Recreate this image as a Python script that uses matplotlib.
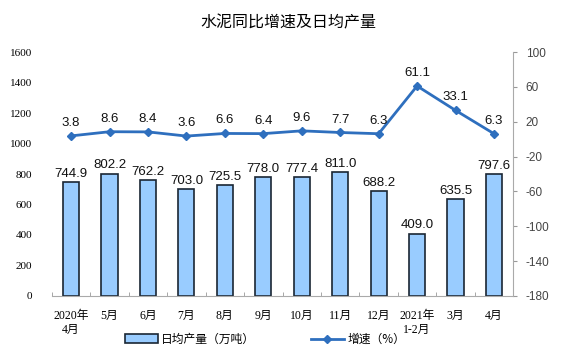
import matplotlib.pyplot as plt
import numpy as np

plt.rcParams["font.family"] = ["Liberation Sans", "Noto Sans CJK SC"]
plt.rcParams["axes.unicode_minus"] = False

# 数据
months = ["2020年\n4月", "5月", "6月", "7月", "8月", "9月", "10月", "11月", "12月", "2021年\n1-2月", "3月", "4月"]
output = [744.9, 802.2, 762.2, 703.0, 725.5, 778.0, 777.4, 811.0, 688.2, 409.0, 635.5, 797.6]
growth = [3.8, 8.6, 8.4, 3.6, 6.6, 6.4, 9.6, 7.7, 6.3, 61.1, 33.1, 6.3]

cjk = ["Noto Sans CJK SC"]
serif_cjk = ["Liberation Serif", "Noto Sans CJK SC"]

fig = plt.figure(figsize=(5.76, 3.57), dpi=100)
ax = fig.add_axes([0.090, 0.171, 0.801, 0.683])
x = np.arange(len(months))

bars = ax.bar(x, output, width=0.42, color="#99ccff", edgecolor="#1a2633", linewidth=1.2, zorder=2)
for xi, v in zip(x, output):
    ax.text(xi, v + 15, f"{v:.1f}", ha="center", va="bottom", fontsize=9.5, color="#111111")

ax.set_xlim(-0.5, len(months) - 0.5)
ax.set_ylim(0, 1600)
ax.set_yticks(range(0, 1601, 200))
ax.set_yticklabels([str(t) for t in range(0, 1601, 200)], family=serif_cjk, fontsize=8)
ax.set_xticks(x)
ax.set_xticklabels(months, family=serif_cjk, fontsize=8.5)
ax.set_xticks(np.arange(-0.5, len(months), 1), minor=True)
ax.tick_params(axis="x", which="major", length=0, pad=10)
ax.tick_params(axis="x", which="minor", length=3, color="#999999", direction="in")
ax.tick_params(axis="y", length=0, pad=14)
for s in ["top", "left", "right"]:
    ax.spines[s].set_visible(False)
ax.spines["bottom"].set_color("#aaaaaa")

ax2 = ax.twinx()
line, = ax2.plot(x, growth, color="#2e6fbe", linewidth=2, marker="D", markersize=4, zorder=3)
for xi, v in zip(x, growth):
    ax2.text(xi, v + 8, f"{v:.1f}", ha="center", va="bottom", fontsize=9.5, color="#111111")
ax2.set_ylim(-180, 100)
ax2.set_yticks(range(-180, 101, 40))
ax2.tick_params(axis="y", length=3, color="#999999", labelsize=8.5, labelcolor="#444444", pad=6)
for s in ["top", "left", "bottom"]:
    ax2.spines[s].set_visible(False)
ax2.spines["right"].set_color("#aaaaaa")

fig.text(0.5, 0.935, "水泥同比增速及日均产量", ha="center", va="center", fontsize=11.5, family=cjk)

handles = [bars, line]
labels = ["日均产量（万吨）", "增速（%）"]
fig.legend(handles, labels, loc="center", bbox_to_anchor=(0.46, 0.05), ncol=2, frameon=False,
           prop={"family": cjk, "size": 8.5}, columnspacing=4.7, handlelength=2.8, handletextpad=0.3)

fig.savefig("out.png", dpi=100)
